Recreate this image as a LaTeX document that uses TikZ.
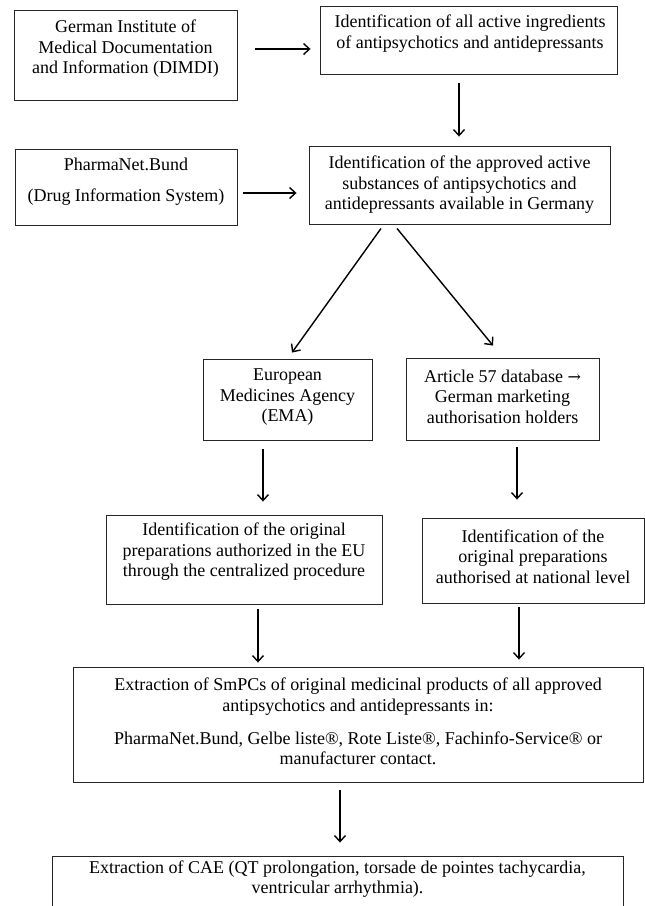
\documentclass[tikz,border=0pt]{standalone}
\usepackage{fontspec}
\setmainfont{Liberation Serif}
\newfontfamily\arrowfont{DejaVu Serif}
\usetikzlibrary{arrows.meta}
\begin{document}
\begin{tikzpicture}[x=1pt,y=1pt,
  box/.style={draw=black!85,line width=0.9pt,inner sep=0pt,rectangle},
  txt/.style={inner sep=0pt,align=center,font=\fontsize{18}{20.5}\selectfont},
  arr/.style={line width=1.4pt,-{Straight Barb[length=6pt,width=11pt,line width=1.4pt]}}]
\useasboundingbox (0,0) rectangle (645,-906);
\clip (0,0) rectangle (645,-906);
% boxes
\node[box,minimum width=223pt,minimum height=90pt] (A) at (125.5,-55) {};
\node[box,minimum width=297pt,minimum height=68pt] (B) at (468.5,-40) {};
\node[box,minimum width=301pt,minimum height=78pt] (C) at (459.5,-185) {};
\node[box,minimum width=222pt,minimum height=76pt] (D) at (126,-187) {};
\node[box,minimum width=169pt,minimum height=81pt] (E) at (287.5,-399.5) {};
\node[box,minimum width=193pt,minimum height=82pt] (F) at (502.5,-399) {};
\node[box,minimum width=276pt,minimum height=89pt] (G) at (244,-559.5) {};
\node[box,minimum width=222pt,minimum height=85pt] (H) at (533,-560.5) {};
\node[box,minimum width=570pt,minimum height=115pt] (I) at (358,-724.5) {};
\node[box,minimum width=571pt,minimum height=80pt] (J) at (337.5,-896) {};
% texts
\node[txt] (At) at (125.5,-49) {German Institute of\\Medical Documentation\\and Information (DIMDI)};
\node[txt] (Bt) at (470,-33.5) {Identification of all active ingredients\\of antipsychotics and antidepressants};
\node[txt] (Ct) at (459.5,-185) {Identification of the approved active\\substances of antipsychotics and\\antidepressants available in Germany};
\node[txt] (Dt) at (126,-181.5) {PharmaNet.Bund\\[10.5pt](Drug Information System)};
\node[txt] (Et) at (287.5,-397.5) {European\\Medicines Agency\\(EMA)};
\node[txt] (Ft) at (502.5,-396.5) {Article 57 database {\arrowfont\fontsize{16}{20.5}\selectfont →}\\German marketing\\authorisation holders};
\node[txt] (Gt) at (244,-552) {Identification of the original\\preparations authorized in the EU\\through the centralized procedure};
\node[txt] (Ht) at (533,-556.5) {Identification of the\\original preparations\\authorised at national level};
\node[txt] (It) at (358,-721.5) {Extraction of SmPCs of original medicinal products of all approved\\antipsychotics and antidepressants in:\\[12.5pt]PharmaNet.Bund, Gelbe liste®, Rote Liste®, Fachinfo-Service® or\\manufacturer contact.};
\node[txt] (Jt) at (337.5,-879) {Extraction of CAE (QT prolongation, torsade de pointes tachycardia,\\ventricular arrhythmia).};
% connectors
\draw[arr] ([shift={(18,6)}]A.east) -- ([shift={(-9,-9)}]B.west);
\draw[arr] ([shift={(-9.5,-9)}]B.south) -- ([shift={(-0.5,9)}]C.north);
\draw[arr] ([shift={(6,-6)}]D.east) -- ([shift={(-12,-8)}]C.west);
\draw[arr] ([shift={(-78.5,-4)}]C.south) -- ([shift={(4.5,6)}]E.north);
\draw[arr] ([shift={(-62.5,-4)}]C.south) -- ([shift={(-9.5,12)}]F.north);
\draw[arr] ([shift={(-24.5,-9)}]E.south) -- ([shift={(19,13)}]G.north);
\draw[arr] ([shift={(14.5,-7)}]F.south) -- ([shift={(-16,18)}]H.north);
\draw[arr] ([shift={(14,-5)}]G.south) -- ([shift={(-100,4)}]I.north);
\draw[arr] ([shift={(-14,-4)}]H.south) -- ([shift={(161,7)}]I.north);
\draw[arr] ([shift={(-18,-8)}]I.south) -- ([shift={(2.5,13)}]J.north);
\end{tikzpicture}
\end{document}
